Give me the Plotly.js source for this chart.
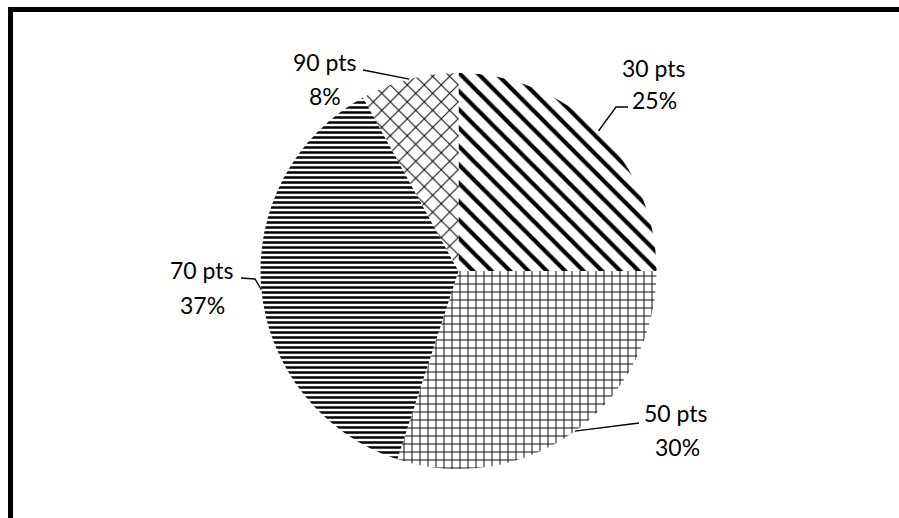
<!DOCTYPE html>
<html>
<head>
<meta charset="utf-8">
<script src="https://cdn.plot.ly/plotly-3.0.1.min.js"></script>
<style>
  html, body { margin: 0; padding: 0; background: #fff; }
  #chart { width: 899px; height: 518px; }
</style>
</head>
<body>
<div id="chart"></div>
<script>
// ---- data ----
const categories = ["30 pts", "50 pts", "70 pts", "90 pts"];
const percentages = [25, 30, 37, 8];
const patternShapes = ["\\", "+", "-", "x"];

// ---- geometry of the figure ----
const W = 899, H = 518;
const M = { l: 60, r: 42, t: 73, b: 49 };
const PW = W - M.l - M.r, PH = H - M.t - M.b;
const px2x = px => (px - M.l) / PW;
const px2y = py => 1 - (py - M.t) / PH;
const CX = M.l + PW / 2, CY = M.t + PH / 2, R = Math.min(PW, PH) / 2;

// mid-angle edge point of each slice (clockwise from 12 o'clock), from data
const total = percentages.reduce((a, b) => a + b, 0);
let acc = 0;
const edges = percentages.map(v => {
  const mid = (acc + v / 2) / total * 2 * Math.PI;
  acc += v;
  return [CX + R * Math.sin(mid), CY - R * Math.cos(mid)];
});

// label placement (pixel centres of name line and percent line) and leader paths
const labelPos = [
  { name: [654, 68], pct: [654, 100] },
  { name: [676, 413], pct: [677, 447] },
  { name: [202, 270], pct: [202, 305] },
  { name: [325, 62], pct: [325, 96] }
];
const leaderPts = [
  e => [e, [616, 107], [628, 107]],
  e => [e, [639, 423]],
  e => [e, [255, 279], [241, 278]],
  e => [e, [363, 70]]
];

const font = { family: "Lato, 'Open Sans', sans-serif", size: 23, color: "#000" };

const annotations = [];
const shapes = [];
categories.forEach((c, i) => {
  annotations.push({ xref: "paper", yref: "paper", x: px2x(labelPos[i].name[0]), y: px2y(labelPos[i].name[1]),
    text: c, showarrow: false, xanchor: "center", yanchor: "middle", font: font });
  annotations.push({ xref: "paper", yref: "paper", x: px2x(labelPos[i].pct[0]), y: px2y(labelPos[i].pct[1]),
    text: percentages[i] + "%", showarrow: false, xanchor: "center", yanchor: "middle", font: font });
  const pts = leaderPts[i](edges[i]);
  const path = pts.map((p, k) => (k ? "L" : "M") + px2x(p[0]).toFixed(5) + "," + px2y(p[1]).toFixed(5)).join(" ");
  shapes.push({ type: "path", xref: "paper", yref: "paper", path: path, line: { color: "#000", width: 1.3 } });
});

// frame (left and top edges)
shapes.push({ type: "line", xref: "paper", yref: "paper", x0: px2x(10.5), x1: px2x(905), y0: px2y(9.5), y1: px2y(9.5),
  line: { color: "#000", width: 5 } });
shapes.push({ type: "line", xref: "paper", yref: "paper", x0: px2x(10.5), x1: px2x(10.5), y0: px2y(7), y1: px2y(525),
  line: { color: "#000", width: 5 } });

const trace = {
  type: "pie",
  labels: categories,
  values: percentages,
  sort: false,
  direction: "clockwise",
  rotation: 0,
  textinfo: "none",
  hoverinfo: "skip",
  showlegend: false,
  marker: {
    colors: ["#ffffff", "#ffffff", "#ffffff", "#ffffff"],
    line: { width: 0 },
    pattern: {
      shape: patternShapes,
      size: [13, 8, 5, 12],
      solidity: [0.32, 0.22, 0.5, 0.16],
      fgcolor: "#000000",
      fgopacity: 1,
      bgcolor: "#ffffff",
      fillmode: "replace"
    }
  }
};

const layout = {
  width: W,
  height: H,
  margin: M,
  paper_bgcolor: "#ffffff",
  plot_bgcolor: "#ffffff",
  annotations: annotations,
  shapes: shapes
};

Plotly.newPlot("chart", [trace], layout, { displayModeBar: false, staticPlot: true });
</script>
</body>
</html>
